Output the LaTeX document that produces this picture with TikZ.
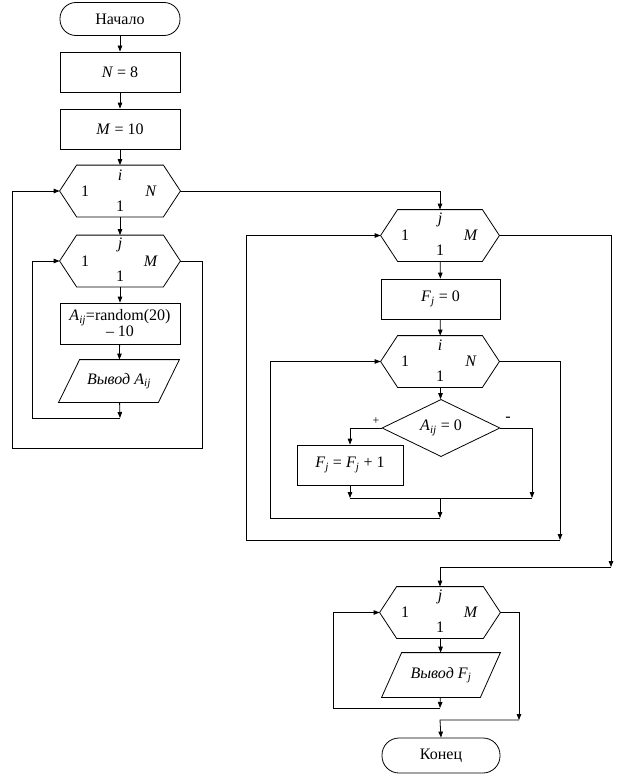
\documentclass[tikz,border=0pt]{standalone}
\usepackage{fontspec}
\setmainfont{Liberation Serif}
\usetikzlibrary{arrows.meta,shapes.geometric}
\newcommand\drawhex[1]{\draw (#1.west) -- ([xshift=17pt]#1.north west) -- ([xshift=-17pt]#1.north east) -- (#1.east) -- ([xshift=-17pt]#1.south east) -- ([xshift=17pt]#1.south west) -- cycle;}
\newcommand\drawpara[2]{\draw ([xshift=#2]#1.north west) -- ([xshift=#2]#1.north east) -- ([xshift=-#2]#1.south east) -- ([xshift=-#2]#1.south west) -- cycle;}
\newcommand\hexlabels[3]{%
  \node[lbl] (#1-t) at ([yshift=16pt]#1.center) {\textit{#2}};
  \node[lbl] (#1-b) at ([yshift=-15pt]#1.center) {1};
  \node[lbl] (#1-l) at ([xshift=-35pt]#1.center) {1};
  \node[lbl] (#1-r) at ([xshift=31pt]#1.center) {\textit{#3}};}
\begin{document}
\begin{tikzpicture}[x=1pt,y=-1pt,line width=0.8pt,
  font=\fontsize{16}{17}\selectfont,
  term/.style={draw,rectangle,rounded corners=16pt,inner sep=0pt,minimum width=#1,minimum height=33pt},
  proc/.style={draw,rectangle,inner sep=0pt,minimum height=40pt,minimum width=#1},
  hexbox/.style={rectangle,inner sep=0pt,minimum width=#1,minimum height=51pt},
  parabox/.style={rectangle,inner sep=0pt,minimum width=#1,minimum height=42pt},
  lbl/.style={inner sep=0pt},
  decide/.style={draw,diamond,inner sep=0pt,minimum width=118pt,minimum height=50pt},
  arr/.style={-{Triangle[length=6pt,width=4.5pt]}}]
\useasboundingbox (0,0) rectangle (624,776);

% left column
\node[term=120pt] (start) at (120,19) {Начало};
\node[proc=120pt] (n8) at (120,72) {\textit{N} = 8};
\node[proc=120pt] (m10) at (120,129) {\textit{M} = 10};
\node[hexbox=120pt] (h1) at (120,191) {};
\drawhex{h1}
\hexlabels{h1}{i}{N}
\node[hexbox=120pt] (h2) at (120,261) {};
\drawhex{h2}
\hexlabels{h2}{j}{M}
\node[proc=120pt,minimum height=41pt,align=center] (a) at (120,323.5)
  {\textit{A}\textsubscript{\textit{ij}}=random(20)\\[-1pt]– 10};
\node[parabox=99pt] (outA) at (119,381) {\textit{Вывод A}\textsubscript{\textit{ij}}};
\drawpara{outA}{10.5pt}

\coordinate (c1) at (120,418);
\coordinate (c2) at (32,418);
\coordinate (c3) at (32,261);
\coordinate (c4) at (202,261);
\coordinate (c5) at (202,448);
\coordinate (c6) at (12,448);
\coordinate (c7) at (12,191);
\coordinate (c8) at (440,191);

\draw[arr] (start) -- (n8);
\draw[arr] (n8) -- (m10);
\draw[arr] (m10) -- (h1);
\draw[arr] (h1) -- (h2);
\draw[arr] (h2) -- (a);
\draw[arr] (a) -- (outA);
\draw[arr] (outA) -- (c1);
\draw[arr] (c1) -- (c2) -- (c3) -- (h2.west);
\draw (h2.east) -- (c4) -- (c5) -- (c6) -- (c7);
\draw[arr] (c7) -- (h1.west);
\draw (h1.east) -- (c8);

% right part
\node[hexbox=118pt] (h3) at (440,235.5) {};
\drawhex{h3}
\hexlabels{h3}{j}{M}
\draw[arr] (c8) -- (h3.north);
\node[proc=119pt] (fj0) at (440.5,299) {\textit{F}\textsubscript{\textit{j}} = 0};
\node[hexbox=118pt] (h4) at (440,361.5) {};
\drawhex{h4}
\hexlabels{h4}{i}{N}
\node[decide] (d) at (441,428) {\textit{A}\textsubscript{\textit{ij}} = 0};
\node[lbl,font=\fontsize{12}{12}\selectfont] (plus) at (376,421) {+};
\node[lbl] (minus) at (508,419) {-};
\node[proc=106pt] (fbox) at (350,465) {\textit{F}\textsubscript{\textit{j}} = \textit{F}\textsubscript{\textit{j}} + 1};

\coordinate (d1) at (350,428);
\coordinate (d2) at (532,428);
\coordinate (j1) at (350,498);
\coordinate (j2) at (532,498);
\coordinate (j3) at (440,498);
\coordinate (j4) at (440,518);
\coordinate (j5) at (270,518);
\coordinate (j6) at (270,361.5);
\coordinate (e1) at (560,361.5);
\coordinate (e2) at (560,540);
\coordinate (e3) at (246,540);
\coordinate (e4) at (246,235.5);
\coordinate (g1) at (611,235.5);
\coordinate (g2) at (611,567);
\coordinate (g3) at (440,567);

\draw[arr] (h3) -- (fj0);
\draw[arr] (fj0) -- (h4);
\draw[arr] (h4) -- (d);
\draw[arr] (d.west) -- (d1) -- (fbox.north);
\draw[arr] (d.east) -- (d2) -- (j2);
\draw[arr] (fbox) -- (j1);
\draw (j1) -- (j2);
\draw[arr] (j3) -- (j4);
\draw[arr] (j4) -- (j5) -- (j6) -- (h4.west);
\draw[arr] (h4.east) -- (e1) -- (e2);
\draw[arr] (e2) -- (e3) -- (e4) -- (h3.west);
\draw[arr] (h3.east) -- (g1) -- (g2);

% bottom part
\node[hexbox=120pt] (h5) at (440,612.5) {};
\drawhex{h5}
\hexlabels{h5}{j}{M}
\node[parabox=98pt,minimum height=44pt] (outF) at (441,675) {\textit{Вывод F}\textsubscript{\textit{j}}};
\drawpara{outF}{10pt}
\node[term=118pt,minimum height=35pt,rounded corners=17pt] (fin) at (441,755.5) {Конец};

\coordinate (k1) at (440,708);
\coordinate (k2) at (333,708);
\coordinate (k3) at (333,612.5);
\coordinate (k4) at (519,612.5);
\coordinate (k5) at (519,720);
\coordinate (k6) at (440,720);

\draw[arr] (g2) -- (g3) -- (h5.north);
\draw[arr] (h5) -- (outF);
\draw[arr] (outF) -- (k1);
\draw[arr] (k1) -- (k2) -- (k3) -- (h5.west);
\draw[arr] (h5.east) -- (k4) -- (k5);
\draw[arr] (k5) -- (k6) -- (fin.north);
\end{tikzpicture}
\end{document}
